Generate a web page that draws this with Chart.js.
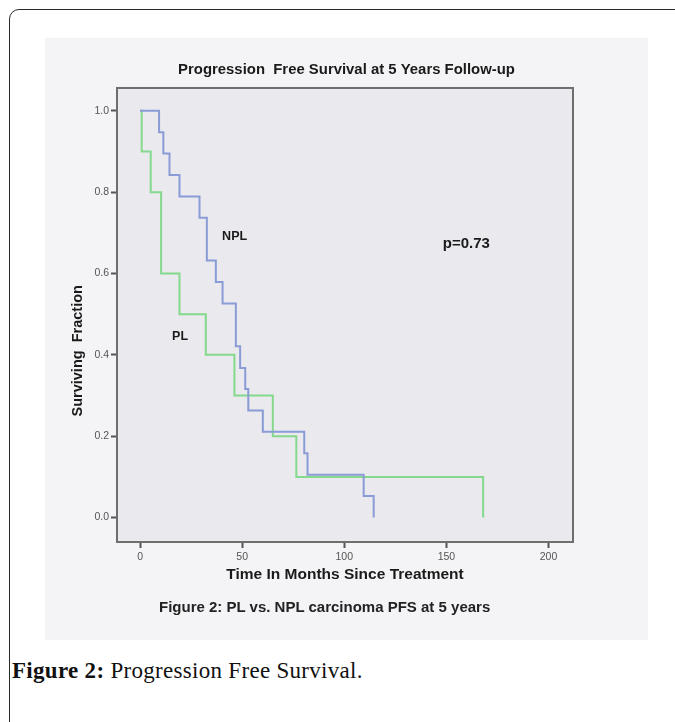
<!DOCTYPE html>
<html>
<head>
<meta charset="utf-8">
<script src="https://cdn.jsdelivr.net/npm/chart.js@4/dist/chart.umd.min.js"></script>
<style>
    body { margin: 0; width: 675px; height: 722px; background: #fff; position: relative; overflow: hidden; font-family: "Liberation Sans", Arial, sans-serif; }
    .frame { position: absolute; left: 9px; top: 9px; width: 720px; height: 760px; border: 1.5px solid #2a2a2a; border-radius: 10px; }
    .figure { position: absolute; left: 45px; top: 38px; width: 603px; height: 602px; background: #f4f4f6; }
    #km-chart { position: absolute; left: 0; top: 0; }
    .fig-note { position: absolute; left: 114px; top: 560px; white-space: nowrap; font-weight: bold; font-size: 15px; color: #222; }
    .caption { position: absolute; left: 12px; top: 658px; font-family: "Liberation Serif", "Times New Roman", serif; font-size: 23px; letter-spacing: 0.3px; color: #111; }
    .caption b { font-weight: bold; }
</style>
</head>
<body>
<div class="frame"></div>
<div class="figure">
    <canvas id="km-chart" width="603" height="602"></canvas>
    <div class="fig-note">Figure 2: PL vs. NPL carcinoma PFS at 5 years</div>
</div>
<div class="caption"><b>Figure 2:</b> Progression Free Survival.</div>

<script>
// --- data ---
const nplTimes = [0, 9.3, 11.4, 14.4, 19.3, 29.1, 32.7, 37.1, 40.4, 46.9, 49, 51.5, 53, 60.1, 80.4, 82, 109.5, 114.4];
const nplSurv  = [1, 0.947, 0.895, 0.842, 0.789, 0.737, 0.632, 0.579, 0.526, 0.421, 0.368, 0.316, 0.263, 0.211, 0.158, 0.105, 0.053, 0];
const plTimes  = [0, 0.8, 5.2, 10.3, 19.3, 32.2, 46.2, 65, 76.5, 168];
const plSurv   = [1, 0.9, 0.8, 0.6, 0.5, 0.4, 0.3, 0.2, 0.1, 0];

const xTicks = [0, 50, 100, 150, 200];
const yTicks = [0, 0.2, 0.4, 0.6, 0.8, 1.0];

// text labels inside the plot, placed in data units
const noteTexts = ['NPL', 'PL', 'p=0.73'];
const noteX = [46.3, 19.6, 159.8];
const noteY = [0.691, 0.444, 0.672];
const noteSizes = [12.5, 12.5, 15];

const toPoints = (xs, ys) => xs.map((x, i) => ({ x: x, y: ys[i] }));

// --- frame, plot background and in-plot labels ---
const plotDecor = {
    id: 'plotDecor',
    beforeDatasetsDraw(chart) {
        const { ctx, chartArea: a } = chart;
        ctx.save();
        ctx.fillStyle = '#e9e9ee';
        ctx.fillRect(a.left, a.top, a.right - a.left, a.bottom - a.top);
        ctx.restore();
    },
    afterDatasetsDraw(chart) {
        const { ctx, chartArea: a, scales } = chart;
        ctx.save();
        ctx.strokeStyle = '#6e6e6e';
        ctx.lineWidth = 2;
        ctx.strokeRect(a.left, a.top, a.right - a.left, a.bottom - a.top);

        ctx.fillStyle = '#1a1a1a';
        ctx.textAlign = 'center';
        ctx.textBaseline = 'middle';
        noteTexts.forEach((t, i) => {
            ctx.font = 'bold ' + noteSizes[i] + 'px "Liberation Sans", Arial, sans-serif';
            ctx.fillText(t, scales.x.getPixelForValue(noteX[i]), scales.y.getPixelForValue(noteY[i]));
        });

        // y axis title, sits a little below the axis middle like the original
        ctx.translate(a.left - 39, scales.y.getPixelForValue(0.41));
        ctx.rotate(-Math.PI / 2);
        ctx.font = 'bold 14.5px "Liberation Sans", Arial, sans-serif';
        ctx.fillText('Surviving  Fraction', 0, 0);
        ctx.restore();
    }
};

const kmCtx = document.getElementById('km-chart').getContext('2d');
new Chart(kmCtx, {
    type: 'line',
    data: {
        datasets: [
            {
                label: 'NPL',
                data: toPoints(nplTimes, nplSurv),
                borderColor: '#8a9bd6',
                borderWidth: 2,
                stepped: 'before',
                pointRadius: 0,
                fill: false
            },
            {
                label: 'PL',
                data: toPoints(plTimes, plSurv),
                borderColor: '#84d98c',
                borderWidth: 2,
                stepped: 'before',
                pointRadius: 0,
                fill: false
            }
        ]
    },
    options: {
        responsive: false,
        animation: false,
        devicePixelRatio: 1,
        layout: { padding: 0 },
        scales: {
            x: {
                type: 'linear',
                min: -11.3,
                max: 212,
                afterBuildTicks: scale => { scale.ticks = xTicks.map(v => ({ value: v })); },
                afterFit: scale => { scale.height = 98; },
                grid: { drawOnChartArea: false, tickLength: 6, color: '#555', tickWidth: 2 },
                border: { display: true, color: '#6e6e6e', width: 2 },
                ticks: { color: '#555', font: { size: 10.5, family: '"Liberation Sans", Arial, sans-serif' }, padding: 3, maxRotation: 0 },
                title: {
                    display: true,
                    text: 'Time In Months Since Treatment',
                    color: '#1a1a1a',
                    font: { size: 15.5, weight: 'bold', family: '"Liberation Sans", Arial, sans-serif' },
                    padding: { top: 0, bottom: 56 }
                }
            },
            y: {
                min: -0.06,
                max: 1.056,
                afterBuildTicks: scale => { scale.ticks = yTicks.map(v => ({ value: v })); },
                afterFit: scale => { scale.width = 72; },
                grid: { drawOnChartArea: false, tickLength: 6, color: '#555', tickWidth: 2 },
                border: { display: true, color: '#6e6e6e', width: 2 },
                ticks: { color: '#555', font: { size: 10.5, family: '"Liberation Sans", Arial, sans-serif' }, padding: 2, callback: v => v.toFixed(1) }
            },
            // empty right-hand margin so the title stays centred on the whole figure
            yRight: {
                position: 'right',
                display: true,
                afterFit: scale => { scale.width = 75; },
                grid: { display: false },
                border: { display: false },
                ticks: { display: false }
            }
        },
        plugins: {
            legend: { display: false },
            tooltip: { enabled: false },
            title: {
                display: true,
                text: 'Progression  Free Survival at 5 Years Follow-up',
                color: '#1a1a1a',
                font: { size: 14.9, weight: 'bold', family: '"Liberation Sans", Arial, sans-serif' },
                padding: { top: 23, bottom: 9.1 }
            }
        }
    },
    plugins: [plotDecor]
});
</script>
</body>
</html>
